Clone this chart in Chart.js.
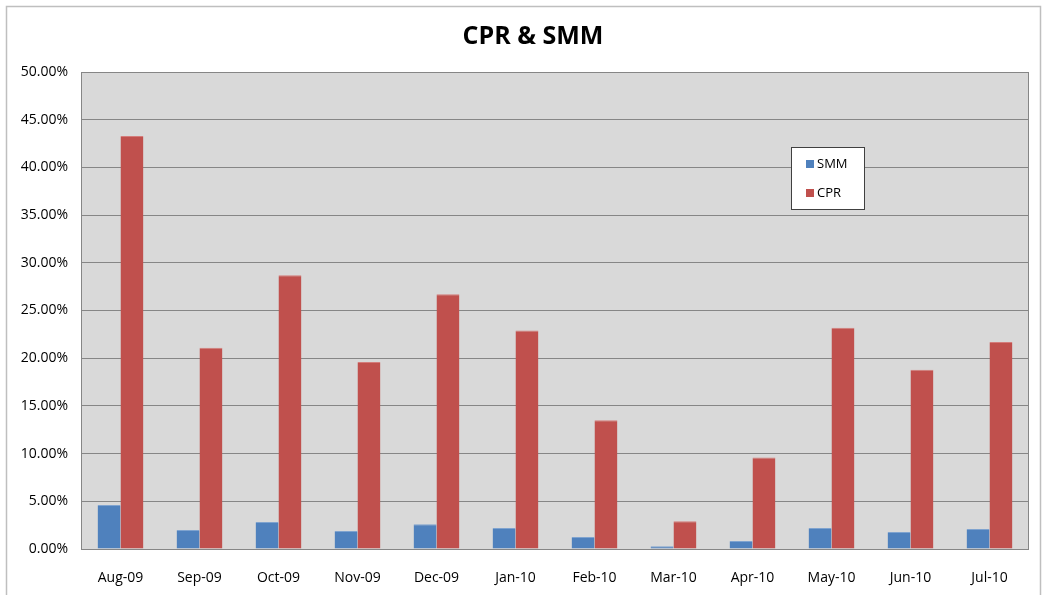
<!DOCTYPE html>
<html>
<head>
<meta charset="utf-8">
<script src="https://cdn.jsdelivr.net/npm/chart.js@4"></script>
<style>
  html, body { margin: 0; padding: 0; background: #fff; }
  #wrap { width: 1048px; height: 595px; position: relative; }
</style>
</head>
<body>
<div id="wrap"><canvas id="mycanvas"></canvas></div>
<script>
var months = ['Aug-09', 'Sep-09', 'Oct-09', 'Nov-09', 'Dec-09', 'Jan-10', 'Feb-10', 'Mar-10', 'Apr-10', 'May-10', 'Jun-10', 'Jul-10'];
var smm = [4.61, 1.99, 2.83, 1.89, 2.60, 2.20, 1.26, 0.30, 0.84, 2.20, 1.78, 2.10];
var cpr = [43.3, 21.1, 28.7, 19.6, 26.7, 22.9, 13.5, 2.9, 9.6, 23.2, 18.8, 21.7];
var yTicks = [0, 5, 10, 15, 20, 25, 30, 35, 40, 45, 50];

var font = "'Open Sans', 'Noto Sans', sans-serif";

// frame, plot background, title and the little legend box
var excelLook = {
  id: 'excelLook',
  beforeDraw: function(chart) {
    var c = chart.ctx, a = chart.chartArea;
    c.save();
    c.fillStyle = '#fff';
    c.fillRect(0, 0, chart.width, chart.height);
    c.strokeStyle = '#bfbfbf';
    c.lineWidth = 1.5;
    c.strokeRect(6.5, 6.5, 1034, 600);
    c.fillStyle = '#d9d9d9';
    c.fillRect(a.left, a.top, a.right - a.left, a.bottom - a.top);
    c.restore();
  },
  afterDraw: function(chart) {
    var c = chart.ctx, a = chart.chartArea;
    c.save();
    c.strokeStyle = '#868686';
    c.lineWidth = 1;
    c.strokeRect(a.left + 0.5, a.top + 0.5, a.right - a.left - 1, a.bottom - a.top);
    c.fillStyle = '#000';
    c.font = 'bold 25px ' + font;
    c.textAlign = 'center';
    c.textBaseline = 'middle';
    c.fillText('CPR & SMM', 533, 37);

    c.fillStyle = '#fff';
    c.fillRect(791, 147, 73, 62);
    c.strokeStyle = '#404040';
    c.strokeRect(791.5, 147.5, 73, 62);
    c.font = '13px ' + font;
    c.textAlign = 'left';
    var items = [['SMM', '#4f81bd', 164], ['CPR', '#c0504d', 193]];
    items.forEach(function(it) {
      c.fillStyle = it[1];
      c.fillRect(806, it[2] - 4, 8, 8);
      c.fillStyle = '#000';
      c.fillText(it[0], 817, it[2]);
    });
    c.restore();
  }
};

var ctx = document.getElementById('mycanvas');
var myChart = new Chart(ctx, {
  type: 'bar',
  data: {
    labels: months,
    datasets: [{
      label: 'SMM',
      data: smm,
      backgroundColor: '#4f81bd',
      borderColor: '#7fa3cf',
      borderWidth: { top: 1, left: 0, right: 0, bottom: 0 }
    }, {
      label: 'CPR',
      data: cpr,
      backgroundColor: '#c0504d',
      borderColor: '#d47c7a',
      borderWidth: { top: 1, left: 0, right: 0, bottom: 0 }
    }]
  },
  options: {
    responsive: true,
    maintainAspectRatio: false,
    animation: false,
    layout: { padding: { top: 72, right: 19, left: 0, bottom: 0 } },
    plugins: {
      legend: { display: false },
      title: { display: false },
      tooltip: { enabled: false }
    },
    datasets: { bar: { barPercentage: 1.0, categoryPercentage: 0.58 } },
    scales: {
      x: {
        grid: { display: false, drawBorder: false },
        border: { display: false },
        ticks: { color: '#000', font: { family: font, size: 14 }, padding: 13, maxRotation: 0 },
        afterFit: function(s) { s.height = 46; }
      },
      y: {
        min: 0,
        max: 50,
        afterBuildTicks: function(s) { s.ticks = yTicks.map(function(v) { return { value: v }; }); },
        grid: { color: '#868686', lineWidth: 1, drawTicks: false },
        border: { display: false },
        ticks: {
          color: '#000',
          font: { family: font, size: 14 },
          padding: 13,
          callback: function(v) { return v.toFixed(2) + '%'; }
        },
        afterFit: function(s) { s.width = 81; }
      }
    }
  },
  plugins: [excelLook]
});
</script>
</body>
</html>
